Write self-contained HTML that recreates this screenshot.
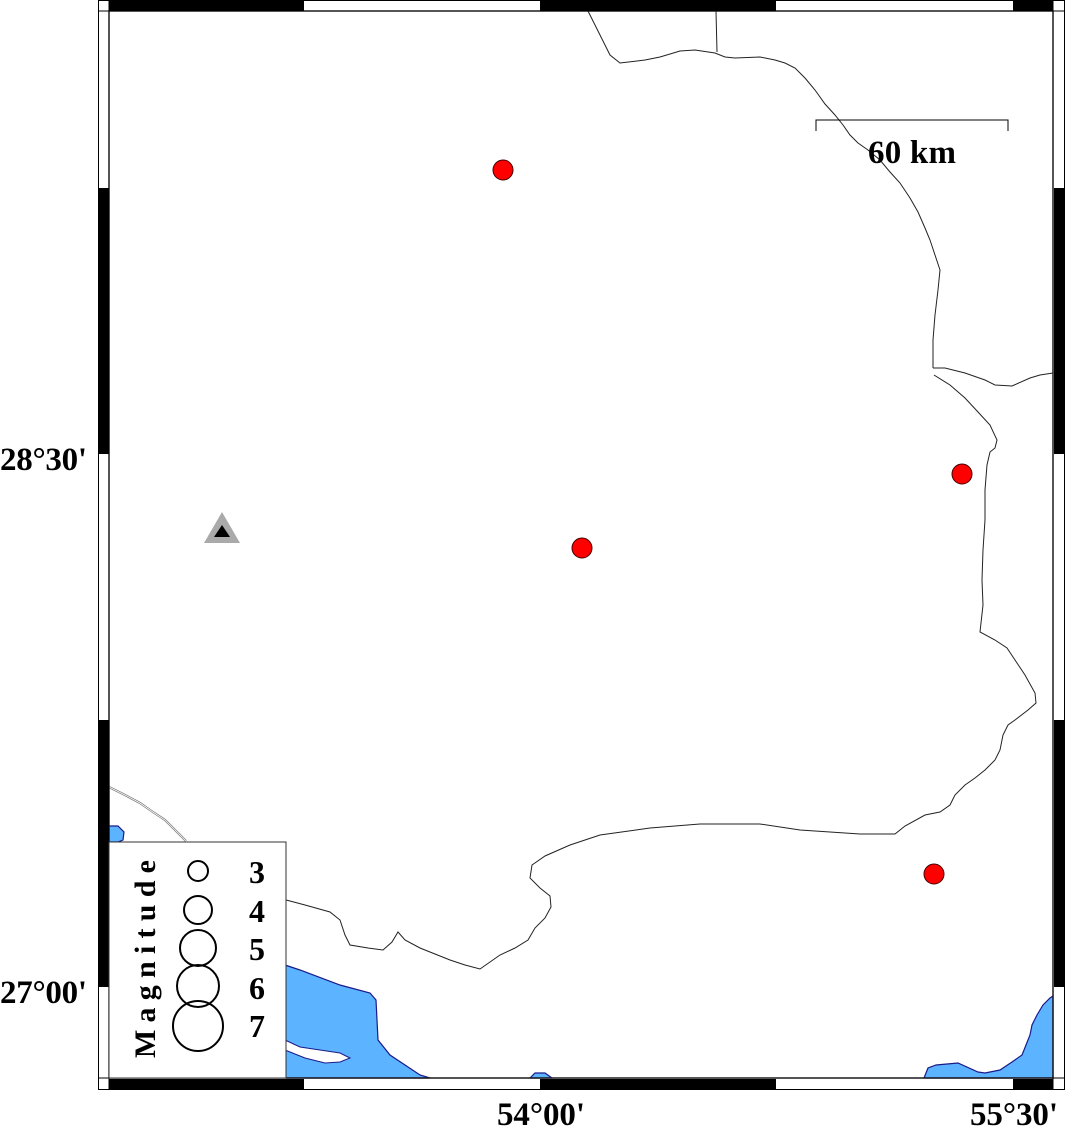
<!DOCTYPE html>
<html><head><meta charset="utf-8"><style>
html,body{margin:0;padding:0;background:#fff;}
svg{display:block;}
text{font-family:"Liberation Serif",serif;font-weight:bold;}
</style></head><body>
<svg width="1066" height="1127" viewBox="0 0 1066 1127" xmlns="http://www.w3.org/2000/svg">
<rect width="1066" height="1127" fill="#fff"/>
<!-- water -->
<g fill="#5cb3ff" stroke="#1a1a8a" stroke-width="1.2">
<path d="M285,965 L300,970 L340,985 L370,993 L376,1000 L378,1040 L390,1055 L420,1075 L430,1078 L285,1078 Z"/>
<path d="M109,826 L118,826 L124,832 L123,840 L118,842 L109,842 Z"/>
<path d="M530,1078 L535,1073 L545,1073 L552,1078 Z"/>
<path d="M924,1078 L928,1068 L936,1065 L958,1063 L978,1072 L985,1073 L1000,1070 L1012,1062 L1022,1055 L1026,1045 L1030,1035 L1032,1025 L1037,1015 L1043,1005 L1050,998 L1053,996 L1053,1078 Z"/>
</g>
<path d="M285,1040 L300,1047 L320,1050 L340,1053 L350,1058 L340,1062 L325,1063 L305,1058 L290,1052 L285,1050 Z" fill="#fff" stroke="#1a1a8a" stroke-width="1"/>
<!-- borders -->
<g fill="none" stroke="#222" stroke-width="1">
<path d="M588,11 L595,25 L605,45 L610,55 L620,63 L645,60 L660,57 L680,51 L695,50 L715,53 L725,57 L735,58 L760,57 L775,60 L785,63 L795,68 L805,78 L815,90 L825,104 L835,115 L843,125 L850,135 L858,143 L868,150 L880,160 L890,172 L900,183 L910,198 L918,212 L925,228 L930,240 L935,255 L940,270 L938,290 L935,315 L933,340 L933,368"/>
<path d="M716,11 L717,52"/>
<path d="M933,368 L945,368 L965,373 L985,380 L995,385 L1012,386 L1030,378 L1040,375 L1053,373"/>
<path d="M934,375 L950,385 L965,398 L978,412 L990,425 L997,440 L995,448 L990,452 L987,465 L985,490 L985,520 L983,550 L982,580 L983,605 L980,632 L995,640 L1007,648 L1015,660 L1025,675 L1035,693 L1036,703 L1028,710 L1015,720 L1008,725 L1003,735 L1000,750 L995,760 L985,770 L975,778 L965,785 L955,795 L950,805 L940,812 L925,815 L905,826 L895,834 L860,834 L800,830 L760,824 L700,824 L650,828 L600,835 L570,845 L545,856 L532,865 L530,878 L540,888 L550,896 L551,907 L545,918 L535,928 L528,940 L515,948 L500,955 L480,969 L465,965 L450,960 L420,948 L405,940 L398,932 L392,942 L383,950 L368,948 L350,945 L345,935 L340,920 L330,912 L305,905 L290,901 L286,900"/>
</g>
<path d="M109,787 L125,795 L140,803 L150,810 L165,820 L175,830 L186,841" fill="none" stroke="#777" stroke-width="2.2"/>
<path d="M109,787 L125,795 L140,803 L150,810 L165,820 L175,830 L186,841" fill="none" stroke="#fff" stroke-width="0.8"/>
<!-- frame -->
<rect x="98.5" y="0.5" width="966" height="1089" fill="none" stroke="#000" stroke-width="1"/>
<rect x="109" y="11" width="944" height="1067" fill="none" stroke="#555" stroke-width="1.5"/>
<g fill="#000">
<rect x="109" y="1" width="195" height="10"/>
<rect x="540" y="1" width="236" height="10"/>
<rect x="1013" y="1" width="40" height="10"/>
<rect x="109" y="1079" width="195" height="10"/>
<rect x="540" y="1079" width="236" height="10"/>
<rect x="1013" y="1079" width="40" height="10"/>
<rect x="99" y="188" width="10" height="266"/>
<rect x="99" y="720" width="10" height="267"/>
<rect x="1054" y="188" width="10" height="266"/>
<rect x="1054" y="720" width="10" height="267"/>
</g>
<g stroke="#000" stroke-width="1">
<line x1="98" y1="11" x2="1064" y2="11"/><line x1="98" y1="1078" x2="1064" y2="1078"/>
<line x1="109" y1="0" x2="109" y2="1089"/><line x1="1053" y1="0" x2="1053" y2="1089"/>
</g>
<!-- scale -->
<path d="M816,131 L816,120 L1008,120 L1008,131" fill="none" stroke="#000" stroke-width="1"/>
<text x="868" y="163" font-size="33" textLength="88">60 km</text>
<!-- events -->
<g fill="#ff0000" stroke="#400" stroke-width="1">
<circle cx="503" cy="170" r="10"/>
<circle cx="582" cy="548" r="10"/>
<circle cx="962" cy="474" r="10"/>
<circle cx="934" cy="874" r="10"/>
</g>
<polygon points="222,512 204,543 240,543" fill="#aaa"/>
<polygon points="222,525 214,537 230,537" fill="#000"/>
<!-- legend -->
<rect x="109" y="842" width="177" height="236" fill="#fff" stroke="#333" stroke-width="1"/>
<g fill="none" stroke="#000" stroke-width="2">
<circle cx="198" cy="871" r="10"/>
<circle cx="198" cy="910" r="14"/>
<circle cx="198" cy="948" r="18"/>
<circle cx="198" cy="986" r="21"/>
<circle cx="198" cy="1026" r="25"/>
</g>
<g font-size="32">
<text x="249" y="883">3</text><text x="249" y="922">4</text><text x="249" y="960">5</text><text x="249" y="999">6</text><text x="249" y="1037">7</text>
</g>
<text transform="translate(155,1058) rotate(-90)" font-size="30" textLength="198">Magnitude</text>
<!-- axis labels -->
<g font-size="33">
<text x="0" y="470" textLength="87">28°30'</text>
<text x="0" y="1003" textLength="87">27°00'</text>
<text x="497" y="1125" textLength="88">54°00'</text>
<text x="970" y="1125" textLength="88">55°30'</text>
</g>
</svg>
</body></html>
